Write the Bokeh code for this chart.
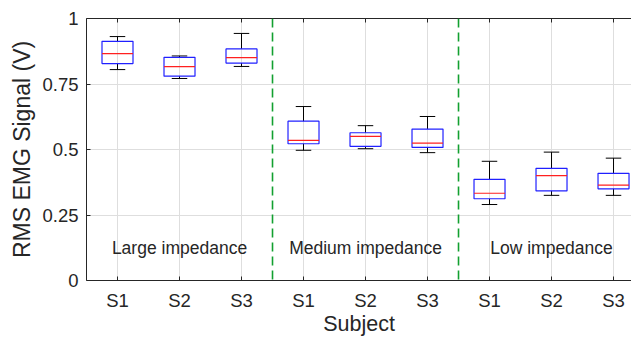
from bokeh.plotting import figure
from bokeh.models import FixedTicker, LinearAxis, Span, Range1d, ColumnDataSource
from bokeh.core.properties import value
from bokeh.embed import file_html
from bokeh.resources import INLINE

# ---- data ----
groups = ["Large impedance", "Medium impedance", "Low impedance"]
subjects = ["S1", "S2", "S3"]
lower  = [0.805, 0.771, 0.817, 0.497, 0.503, 0.488, 0.290, 0.325, 0.325]
q1     = [0.828, 0.780, 0.830, 0.522, 0.512, 0.508, 0.312, 0.342, 0.350]
median = [0.866, 0.816, 0.851, 0.535, 0.550, 0.524, 0.333, 0.400, 0.364]
q3     = [0.913, 0.852, 0.884, 0.608, 0.564, 0.578, 0.386, 0.428, 0.409]
upper  = [0.931, 0.857, 0.943, 0.664, 0.591, 0.626, 0.455, 0.490, 0.467]
group_label_y = 0.123
yticks = [0, 0.25, 0.5, 0.75, 1]
ytick_labels = ["0", "0.25", "0.5", "0.75", "1"]

n_sub = len(subjects)
pos = [i + 1 for i in range(len(groups) * n_sub)]
xtick_labels = [subjects[i % n_sub] for i in range(len(pos))]
group_centers = [g * n_sub + (n_sub + 1) / 2 for g in range(len(groups))]
separators = [g * n_sub + 0.5 for g in range(1, len(groups))]

FONT = "Liberation Sans"
TXT = "#262626"
half_box = 0.25
half_cap = 0.125

src = ColumnDataSource(dict(
    x=pos, lower=lower, q1=q1, median=median, q3=q3, upper=upper,
    left=[x - half_box for x in pos], right=[x + half_box for x in pos],
    cl=[x - half_cap for x in pos], cr=[x + half_cap for x in pos],
))

p = figure(width=631, height=338, output_backend="svg", toolbar_location=None,
           x_range=Range1d(0.5, 9.29), y_range=Range1d(0, 1),
           min_border_left=86, min_border_right=0, min_border_top=18,
           min_border_bottom=0, background_fill_color="white",
           border_fill_color="white")
p.outline_line_color = None

# axes
p.xaxis.ticker = FixedTicker(ticks=pos)
p.xaxis.major_label_overrides = {x: l for x, l in zip(pos, xtick_labels)}
p.yaxis.ticker = FixedTicker(ticks=yticks)
p.yaxis.major_label_overrides = {float(t): l for t, l in zip(yticks, ytick_labels)}
p.xaxis.axis_label = "Subject"
p.yaxis.axis_label = "RMS EMG Signal (V)"
for ax in (p.xaxis, p.yaxis):
    ax.major_tick_in = 4
    ax.major_tick_out = 0
    ax.minor_tick_line_color = None
    ax.axis_line_color = TXT
    ax.major_tick_line_color = TXT
    ax.major_label_text_font = FONT
    ax.major_label_text_font_size = "18.5px"
    ax.major_label_text_color = TXT
    ax.axis_label_text_font = FONT
    ax.axis_label_text_font_style = "normal"
    ax.axis_label_text_color = TXT
p.xaxis.axis_label_text_font_size = "21.5px"
p.yaxis.axis_label_text_font_size = "23px"
p.xaxis.major_label_standoff = 9
p.xaxis.axis_label_standoff = -2
p.yaxis.major_label_standoff = 8
p.yaxis.axis_label_standoff = 4

top = LinearAxis(ticker=FixedTicker(ticks=pos), major_label_text_font_size="1px",
                 major_label_text_color=None, major_tick_in=4, major_tick_out=0,
                 major_label_standoff=0, minor_tick_line_color=None,
                 axis_line_color=TXT, major_tick_line_color=TXT)
p.add_layout(top, "above")

p.xgrid.ticker = FixedTicker(ticks=pos)
p.ygrid.ticker = FixedTicker(ticks=yticks)
p.grid.grid_line_color = "#dedede"
p.grid.grid_line_width = 1

# separators
for s in separators:
    p.add_layout(Span(location=s, dimension="height", line_color="#12a030",
                      line_width=1.6, line_dash="9 5"))

# boxplots
p.segment(x0="x", y0="q3", x1="x", y1="upper", source=src, line_color="black", line_width=1)
p.segment(x0="x", y0="lower", x1="x", y1="q1", source=src, line_color="black", line_width=1)
p.segment(x0="cl", y0="upper", x1="cr", y1="upper", source=src, line_color="black", line_width=1)
p.segment(x0="cl", y0="lower", x1="cr", y1="lower", source=src, line_color="black", line_width=1)
p.quad(left="left", right="right", bottom="q1", top="q3", source=src,
       fill_alpha=0, line_color="#2020ff", line_width=1.2)
p.segment(x0="left", y0="median", x1="right", y1="median", source=src,
          line_color="#ff2020", line_width=1.2)

# group labels
p.text(x=group_centers, y=[group_label_y] * len(groups), text=groups,
       text_font=value(FONT), text_font_size="17.5px", text_color=TXT,
       text_align="center", text_baseline="middle")

open("out.html", "w").write(file_html(p, INLINE))
